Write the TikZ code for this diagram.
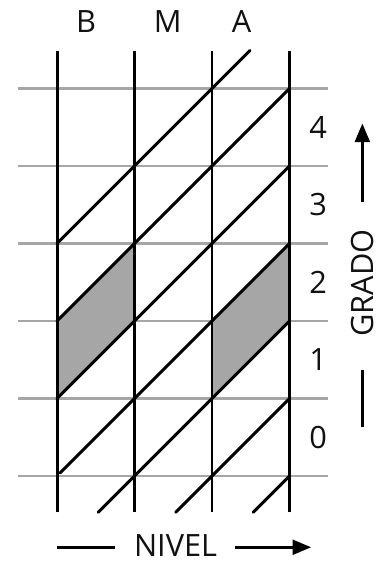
\documentclass[tikz,border=0pt]{standalone}
\usepackage{fontspec}
\setmainfont{Open Sans}
\usepackage{xcolor}
\usetikzlibrary{arrows.meta,positioning}
\definecolor{bk90}{HTML}{111111}
\definecolor{gr60}{HTML}{A6A6A6}
\tikzset{
  levelline/.style={draw=black, line width=2.2pt},
  rowline/.style={draw=gr60, line width=1.7pt},
  diagline/.style={draw=black, line width=2.2pt, line cap=round},
  shadecell/.style={fill=gr60},
  axisarrow/.style={-{Triangle[length=14pt,width=11pt]}, line width=2.3pt},
  axisbar/.style={line width=2.3pt},
  labelnode/.style={font=\fontsize{23}{27}\selectfont, text=bk90, inner sep=0pt},
}

\begin{document}
\begin{tikzpicture}[x=58pt, y=58pt]
  \useasboundingbox (-0.736,-1.123) rectangle (4.186,6.142);

  % grade rows
  \foreach \r in {0,...,5}
    \draw[rowline] (-0.5,\r) -- (3.5,\r);

  % shaded cells
  \fill[shadecell] (0,1) -- (0,2) -- (1,3) -- (1,2) -- cycle;
  \fill[shadecell] (2,1) -- (2,2) -- (3,3) -- (3,2) -- cycle;

  % level columns
  \foreach \c in {0,...,3}
    \draw[levelline] (\c,-0.47) -- (\c,5.49);

  % diagonals
  \draw[diagline] (0,3) -- (2.49,5.49);
  \draw[diagline] (0,2) -- (3,5);
  \draw[diagline] (0,1) -- (3,4);
  \draw[diagline] (0.04,0.04) -- (3,3);
  \draw[diagline] (0.53,-0.47) -- (3,2);
  \draw[diagline] (1.53,-0.47) -- (3,1);
  \draw[diagline] (2.53,-0.47) -- (3,0);

  % column labels
  \node[labelnode] (lb) at (0.375,5.86) {B};
  \node[labelnode] (lm) at (1.43,5.86) {M};
  \node[labelnode] (la) at (2.38,5.86) {A};

  % row labels
  \foreach \g/\y in {4/4.5,3/3.5,2/2.5,1/1.5,0/0.5}
    \node[labelnode] (g\g) at (3.37,\y) {\g};

  % GRADO axis
  \node[labelnode, rotate=90] (grado) at (3.94,2.49) {GRADO};
  \coordinate (gup) at (3.94,3.54);
  \coordinate (gtop) at (3.94,4.55);
  \coordinate (gdown) at (3.94,1.37);
  \coordinate (gbot) at (3.94,0.63);
  \draw[axisarrow] (gup) -- (gtop);
  \draw[axisbar] (gdown) -- (gbot);

  % NIVEL axis
  \node[labelnode] (nivel) at (1.53,-0.90) {NIVEL};
  \coordinate (nleft) at (0,-0.92);
  \coordinate (nlend) at (0.75,-0.92);
  \coordinate (nrstart) at (2.3,-0.92);
  \coordinate (nright) at (3.28,-0.92);
  \draw[axisbar] (nleft) -- (nlend);
  \draw[axisarrow] (nrstart) -- (nright);
\end{tikzpicture}
\end{document}
